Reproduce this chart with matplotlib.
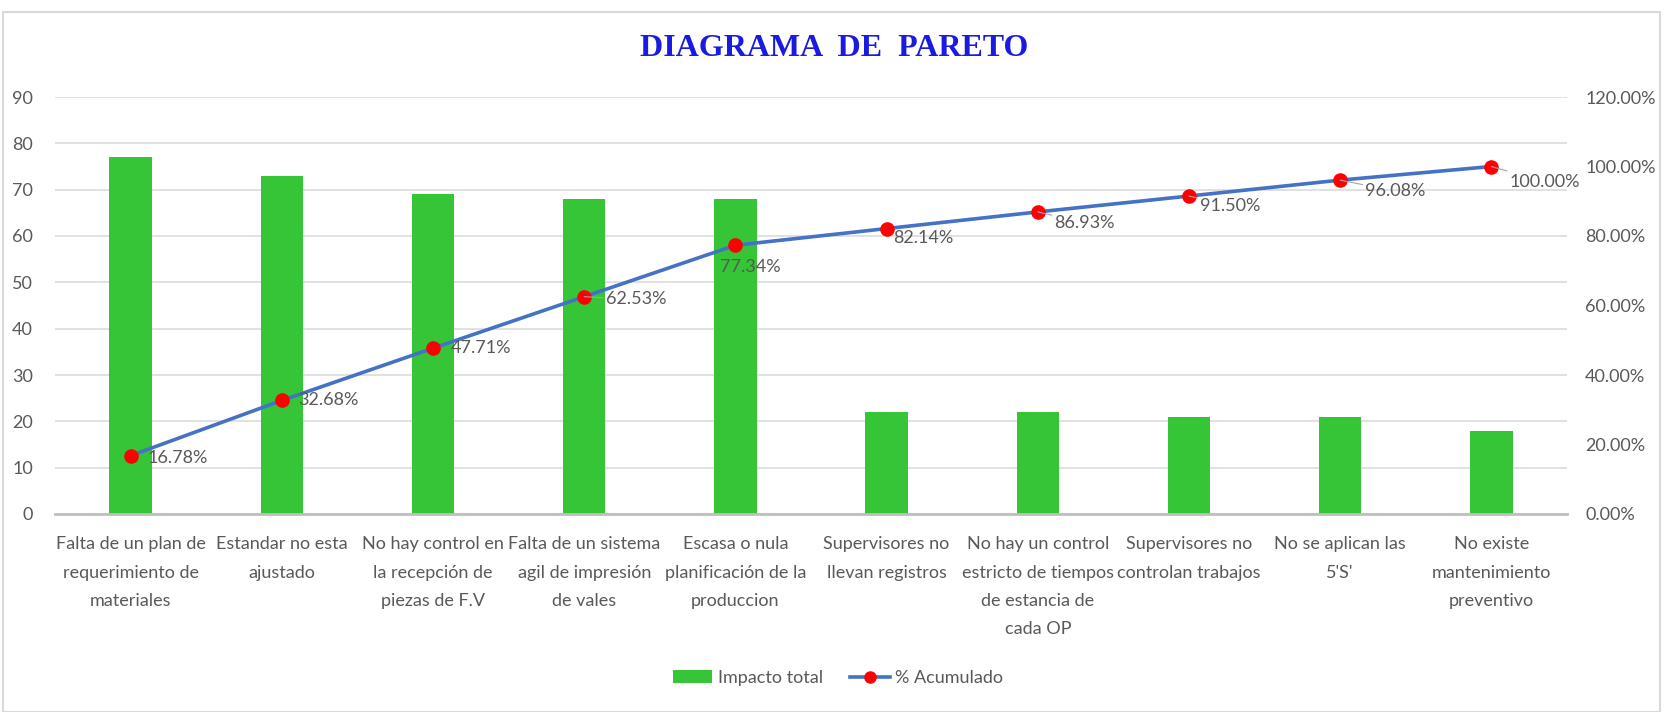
import matplotlib
matplotlib.use("Agg")
import matplotlib.pyplot as plt
from matplotlib.patches import Rectangle, Patch
from matplotlib.lines import Line2D

categories = [
    "Falta de un plan de\nrequerimiento de\nmateriales",
    "Estandar no esta\najustado",
    "No hay control en\nla recepción de\npiezas de F.V",
    "Falta de un sistema\nagil de impresión\nde vales",
    "Escasa o nula\nplanificación de la\nproduccion",
    "Supervisores no\nllevan registros",
    "No hay un control\nestricto de tiempos\nde estancia de\ncada OP",
    "Supervisores no\ncontrolan trabajos",
    "No se aplican las\n5'S'",
    "No existe\nmantenimiento\npreventivo",
]
impacto_total = [77, 73, 69, 68, 68, 22, 22, 21, 21, 18]
pct_acumulado = [16.78, 32.68, 47.71, 62.53, 77.34, 82.14, 86.93, 91.50, 96.08, 100.00]
left_ticks = list(range(0, 100, 10))
right_ticks = [0, 20, 40, 60, 80, 100, 120]

plt.rcParams['font.family'] = ['Lato', 'DejaVu Sans']

GRAY = '#595959'
FS = 13
fig = plt.figure(figsize=(16.65, 7.12), dpi=100)
ax = fig.add_axes([55/1665, 1-514/712, (1567-55)/1665, (514-97)/712])

x = list(range(len(categories)))
ax.bar(x, impacto_total, width=0.28, color='#36C536', zorder=2)
ax.set_xlim(-0.5, len(categories)-0.5)
ax.set_ylim(0, 90)
ax.set_yticks(left_ticks)
ax.set_xticks(x)
ax.set_xticklabels(categories, fontsize=FS, color=GRAY, linespacing=1.95)
ax.tick_params(axis='both', length=0, colors=GRAY, labelsize=FS)
ax.tick_params(axis='x', pad=16)
ax.tick_params(axis='y', pad=16)
ax.grid(axis='y', color='#DCDCDC', linewidth=1.2, zorder=0)
for s in ['top', 'right', 'left']:
    ax.spines[s].set_visible(False)
ax.spines['bottom'].set_color('#BFBFBF')
ax.spines['bottom'].set_linewidth(2)
ax.spines['bottom'].set_zorder(3)

ax2 = ax.twinx()
ax2.set_ylim(0, 120)
ax2.set_yticks(right_ticks)
ax2.set_yticklabels([f"{v:.2f}%" for v in right_ticks])
ax2.tick_params(axis='y', length=0, colors=GRAY, labelsize=FS, pad=13)
for s in ax2.spines.values():
    s.set_visible(False)
ax2.plot(x, pct_acumulado, color='#4472C4', linewidth=2.6, marker='o',
         markersize=9.5, markerfacecolor='#FF0000', markeredgecolor='#FF0000', zorder=4)

# label offsets (points)
offsets = [(12, -2), (12, 0), (13, 0), (16, -2), (-11, -16), (5, -7), (12, -8), (8, -7), (18, -8), (13, -11)]
leaders = [False, False, False, True, False, False, True, True, True, True]
for xi, v, off, ld in zip(x, pct_acumulado, offsets, leaders):
    kw = {}
    if ld:
        kw['arrowprops'] = dict(arrowstyle='-', color='#A6A6A6', lw=0.8, shrinkA=0, shrinkB=0)
    ax2.annotate(f"{v:.2f}%", (xi, v), xytext=off, textcoords='offset points',
                 ha='left', va='center', fontsize=FS, color=GRAY, zorder=5, **kw)

fig.text(834/1665, 1-48/712, "DIAGRAMA  DE  PARETO", ha='center', va='center',
         fontsize=23, fontweight='bold', color='#1A1AE0', family='Liberation Serif')

handles = [Patch(facecolor='#36C536', edgecolor='none'),
           Line2D([0], [0], color='#4472C4', lw=2.6, marker='o', markersize=8,
                  markerfacecolor='#FF0000', markeredgecolor='#FF0000')]
fig.legend(handles, ['Impacto total', '% Acumulado'], loc='center',
           bbox_to_anchor=(838/1665, 1-678/712), ncol=2, frameon=False,
           fontsize=FS, labelcolor=GRAY, handlelength=2.2, columnspacing=1.5,
           handletextpad=0.3)

fig.patches.append(Rectangle((3/1665, 0), 1657/1665, 1-12/712, transform=fig.transFigure,
                             fill=False, edgecolor='#D9D9D9', linewidth=1.5))

fig.savefig('out.png', dpi=100)
